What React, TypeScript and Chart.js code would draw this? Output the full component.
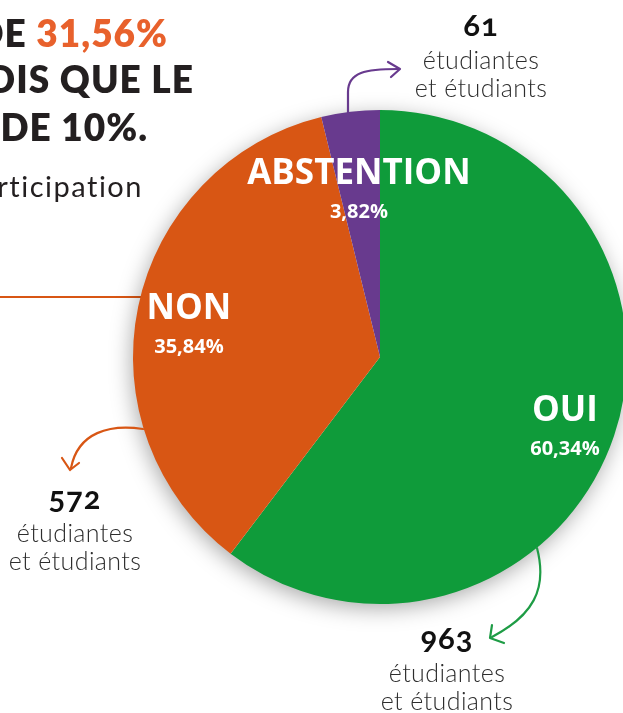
import React, { useEffect, useRef } from "react";
import { Chart, registerables } from "chart.js";

Chart.register(...registerables);

const categories = ["OUI", "NON", "ABSTENTION"];
const votes = [963, 572, 61];
const percentLabels = ["60,34%", "35,84%", "3,82%"];
const sliceColors = ["#0f9b3a", "#d85614", "#683a8e"];
const labelRadius = [0.79, 0.79, 0.713];
const countLabels = ["963", "572", "61"];

const shadowPlugin = {
  id: "pieShadow",
  beforeDatasetsDraw(chart: any) {
    const meta = chart.getDatasetMeta(0);
    const arc = meta.data[0];
    if (!arc) return;
    const { x, y, outerRadius } = arc.getProps(["x", "y", "outerRadius"], true);
    const ctx = chart.ctx;
    ctx.save();
    ctx.shadowColor = "rgba(0,0,0,0.35)";
    ctx.shadowBlur = 22;
    ctx.shadowOffsetX = -2;
    ctx.shadowOffsetY = 5;
    ctx.fillStyle = "#ffffff";
    ctx.beginPath();
    ctx.arc(x, y, outerRadius - 1, 0, Math.PI * 2);
    ctx.fill();
    ctx.restore();
  },
};

const labelPlugin = {
  id: "sliceLabels",
  afterDatasetsDraw(chart: any) {
    const meta = chart.getDatasetMeta(0);
    const ctx = chart.ctx;
    ctx.save();
    ctx.fillStyle = "#ffffff";
    ctx.textAlign = "center";
    ctx.textBaseline = "alphabetic";
    meta.data.forEach((arc: any, i: number) => {
      const { x, y, startAngle, endAngle, outerRadius } = arc.getProps(
        ["x", "y", "startAngle", "endAngle", "outerRadius"],
        true
      );
      const mid = (startAngle + endAngle) / 2;
      const r = outerRadius * labelRadius[i];
      const cx = x + Math.cos(mid) * r;
      const cy = y + Math.sin(mid) * r;
      ctx.font = "bold 35px 'Open Sans', sans-serif";
      ctx.fillText(categories[i], cx, cy + 2);
      ctx.font = "bold 20px 'Open Sans', sans-serif";
      ctx.fillText(percentLabels[i], cx, cy + 36);
    });
    ctx.restore();
  },
};

const headStyle: React.CSSProperties = {
  position: "absolute",
  whiteSpace: "nowrap",
  fontFamily: "Lato, 'Open Sans', sans-serif",
  fontWeight: 800,
  fontSize: 37,
  letterSpacing: 1,
  color: "#231f20",
  lineHeight: "44px",
  textAlign: "right",
};

const NUM_F = 31;
const TXT_F = 25;

function Line({
  text,
  center,
  baseline,
  size,
  weight,
  color,
  oldstyle,
}: {
  text: string;
  center: number;
  baseline: number;
  size: number;
  weight: number;
  color: string;
  oldstyle?: boolean;
}) {
  return (
    <div
      style={{
        position: "absolute",
        left: center - 120,
        width: 240,
        top: baseline - 0.987 * size,
        textAlign: "center",
        fontFamily: "Lato, sans-serif",
        fontWeight: weight,
        fontSize: size,
        lineHeight: `${1.2 * size}px`,
        color,
        letterSpacing: oldstyle ? 1 : 0.4,
        fontVariantNumeric: oldstyle ? "oldstyle-nums" : "normal",
        whiteSpace: "nowrap",
      }}
    >
      {text}
    </div>
  );
}

function Annotation({ num, center, base }: { num: string; center: number; base: number }) {
  return (
    <>
      <Line text={num} center={center} baseline={base - 32} size={NUM_F} weight={700} color="#111111" oldstyle />
      <Line text="étudiantes" center={center} baseline={base} size={TXT_F} weight={300} color="#2d2d2d" />
      <Line text="et étudiants" center={center} baseline={base + 28} size={TXT_F} weight={300} color="#2d2d2d" />
    </>
  );
}

export default function App() {
  const canvasRef = useRef<HTMLCanvasElement | null>(null);

  useEffect(() => {
    document.body.style.margin = "0";
    const canvas = canvasRef.current;
    if (!canvas) return;
    const chart = new Chart(canvas, {
      type: "pie",
      data: {
        labels: categories,
        datasets: [
          {
            data: votes,
            backgroundColor: sliceColors,
            borderWidth: 0,
          },
        ],
      },
      options: {
        responsive: false,
        animation: false,
        layout: { padding: { left: 133, right: 13, top: 110, bottom: 109 } },
        plugins: {
          legend: { display: false },
          tooltip: { enabled: false },
        },
      },
      plugins: [shadowPlugin, labelPlugin],
    });
    return () => chart.destroy();
  }, []);

  return (
    <div
      style={{
        position: "relative",
        width: 623,
        height: 713,
        overflow: "hidden",
        background: "#ffffff",
      }}
    >
      <div
        style={{
          position: "absolute",
          left: 0,
          top: 296,
          width: 160,
          height: 2,
          background: "#d85614",
        }}
      />
      <canvas
        ref={canvasRef}
        width={640}
        height={713}
        style={{ position: "absolute", left: 0, top: 0, width: 640, height: 713 }}
      />
      <div style={{ ...headStyle, right: 623 - 168, top: 11 }}>
        TAUX DE <span style={{ color: "#e8612c" }}>31,56%</span>
      </div>
      <div style={{ ...headStyle, right: 623 - 194, top: 57 }}>TANDIS QUE LE</div>
      <div style={{ ...headStyle, right: 623 - 148, top: 105 }}>SEUIL DE 10%.</div>
      <div
        style={{
          position: "absolute",
          right: 623 - 143,
          top: 168,
          whiteSpace: "nowrap",
          fontFamily: "Lato, sans-serif",
          fontWeight: 400,
          fontSize: 29,
          letterSpacing: 1.5,
          color: "#231f20",
          lineHeight: "36px",
        }}
      >
        de participation
      </div>

      <svg
        width={623}
        height={713}
        style={{ position: "absolute", left: 0, top: 0, pointerEvents: "none" }}
      >
        <g fill="none" strokeWidth={2.2} strokeLinecap="round" strokeLinejoin="round">
          <path d="M348,113 L348,92 C348,72 366,69 398,69" stroke="#683a8e" />
          <path d="M388,62 L400,69 L391,77" stroke="#683a8e" />
          <path d="M143,429 C110,424 78,432 71,468" stroke="#d85614" />
          <path d="M62,458 L70,470 L79,463" stroke="#d85614" />
          <path d="M537,548 C548,590 532,616 492,637" stroke="#1e9c45" />
          <path d="M492,625 L490,638 L504,643" stroke="#1e9c45" />
        </g>
      </svg>

      <Annotation num={countLabels[2]} center={481} base={69} />
      <Annotation num={countLabels[1]} center={75} base={542} />
      <Annotation num={countLabels[0]} center={447} base={682} />
    </div>
  );
}
